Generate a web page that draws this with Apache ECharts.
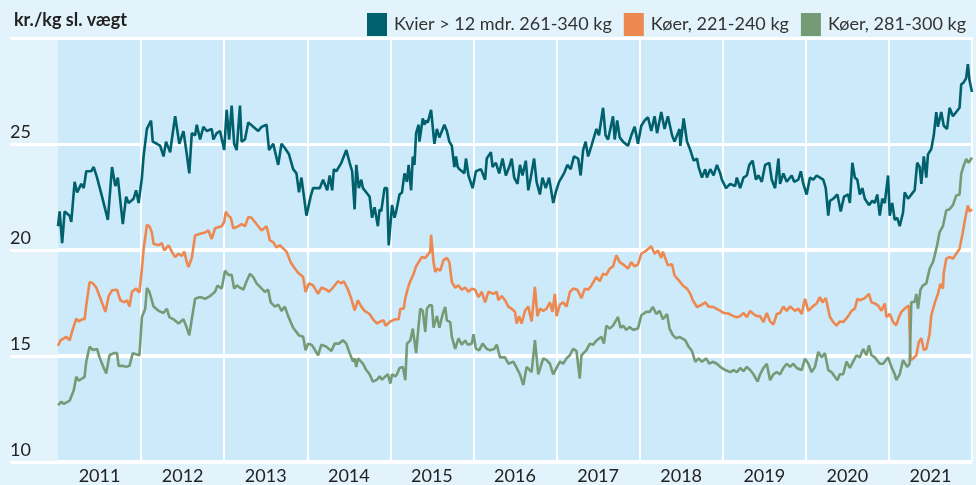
<!DOCTYPE html>
<html><head><meta charset="utf-8">
<script src="https://cdn.jsdelivr.net/npm/echarts@6/dist/echarts.min.js"></script>
<style>html,body{margin:0;padding:0;background:#e2f3fc}#c{width:976px;height:485px}</style>
</head><body><div id="c"></div>
<script>
const years = ['2011','2012','2013','2014','2015','2016','2017','2018','2019','2020','2021'];
const seriesNames = ['Kvier > 12 mdr. 261-340 kg', 'Køer, 221-240 kg', 'Køer, 281-300 kg'];

const kvier = [
[2011.00,21.1],[2011.02,21.8],[2011.05,20.3],[2011.08,21.8],[2011.14,21.6],[2011.16,21.3],[2011.20,23.2],[2011.23,22.7],[2011.28,23.1],[2011.31,22.9],[2011.34,23.7],[2011.40,23.7],[2011.43,23.9],[2011.47,23.4],[2011.53,22.5],[2011.60,21.4],[2011.65,23.9],[2011.69,23.0],[2011.72,23.4],[2011.78,21.2],[2011.82,22.5],[2011.85,22.2],[2011.91,22.4],[2011.94,22.8],[2011.97,22.2],
[2012.01,23.4],[2012.03,24.4],[2012.07,25.7],[2012.12,26.1],[2012.14,25.1],[2012.19,25.0],[2012.23,24.9],[2012.27,24.4],[2012.30,25.1],[2012.35,24.6],[2012.37,25.2],[2012.41,26.3],[2012.46,25.0],[2012.51,25.6],[2012.55,24.5],[2012.58,23.6],[2012.61,25.5],[2012.65,25.4],[2012.67,25.9],[2012.71,25.2],[2012.75,25.8],[2012.79,25.6],[2012.85,25.7],[2012.87,25.2],[2012.91,25.5],[2012.95,25.6],
[2013.00,24.7],[2013.03,26.6],[2013.06,25.2],[2013.09,26.8],[2013.12,25.0],[2013.15,24.7],[2013.19,26.8],[2013.21,25.1],[2013.25,25.2],[2013.29,26.0],[2013.35,25.8],[2013.41,25.6],[2013.45,25.8],[2013.51,25.9],[2013.54,24.7],[2013.59,25.0],[2013.65,24.0],[2013.69,25.0],[2013.73,24.8],[2013.78,24.5],[2013.83,23.8],[2013.87,23.6],[2013.90,22.7],[2013.93,23.4],[2013.99,21.6],
[2014.04,22.5],[2014.07,22.9],[2014.15,22.9],[2014.19,23.3],[2014.24,22.8],[2014.27,23.5],[2014.30,22.8],[2014.32,23.8],[2014.35,23.7],[2014.41,24.1],[2014.47,24.7],[2014.51,24.1],[2014.54,23.7],[2014.57,21.9],[2014.59,24.0],[2014.62,22.9],[2014.65,23.3],[2014.67,22.9],[2014.73,22.6],[2014.75,22.5],[2014.78,21.5],[2014.81,22.0],[2014.85,21.1],[2014.87,21.9],[2014.89,21.8],[2014.93,22.9],[2014.96,22.9],[2014.98,20.2],
[2015.02,22.1],[2015.05,21.5],[2015.07,21.8],[2015.11,22.6],[2015.14,22.7],[2015.17,23.6],[2015.20,23.2],[2015.22,24.0],[2015.25,22.8],[2015.27,24.4],[2015.29,24.0],[2015.31,25.5],[2015.34,25.9],[2015.35,25.1],[2015.39,26.2],[2015.41,25.9],[2015.43,26.1],[2015.45,26.0],[2015.49,26.6],[2015.53,25.0],[2015.56,25.7],[2015.59,25.3],[2015.65,25.9],[2015.68,25.6],[2015.71,25.1],[2015.74,24.9],[2015.77,23.9],[2015.79,24.4],[2015.81,23.9],[2015.83,23.8],[2015.89,23.6],[2015.91,24.3],[2015.94,23.5],[2015.99,22.9],
[2016.03,23.7],[2016.09,23.8],[2016.14,23.3],[2016.16,24.3],[2016.21,24.6],[2016.23,23.9],[2016.27,24.1],[2016.31,23.6],[2016.35,24.3],[2016.39,23.5],[2016.43,23.9],[2016.46,24.3],[2016.49,23.4],[2016.53,23.1],[2016.56,24.0],[2016.59,23.5],[2016.63,24.2],[2016.66,22.8],[2016.69,23.4],[2016.73,24.3],[2016.76,23.2],[2016.80,22.6],[2016.83,23.4],[2016.87,22.9],[2016.91,23.4],[2016.96,22.2],[2016.99,22.7],
[2017.03,23.2],[2017.09,23.6],[2017.13,24.0],[2017.17,23.8],[2017.21,24.4],[2017.26,24.3],[2017.29,23.5],[2017.32,24.7],[2017.35,25.1],[2017.38,24.4],[2017.42,24.9],[2017.48,25.7],[2017.51,25.4],[2017.56,26.7],[2017.59,25.4],[2017.62,25.2],[2017.68,26.3],[2017.70,25.2],[2017.73,26.1],[2017.76,25.3],[2017.80,25.1],[2017.86,24.9],[2017.90,25.4],[2017.94,25.8],[2017.98,25.0],
[2018.02,25.85],[2018.06,26.1],[2018.10,26.25],[2018.14,25.6],[2018.18,26.3],[2018.21,25.5],[2018.26,26.5],[2018.30,25.7],[2018.34,26.3],[2018.39,25.4],[2018.42,25.1],[2018.48,25.7],[2018.49,24.9],[2018.53,26.2],[2018.57,25.1],[2018.61,24.7],[2018.65,24.2],[2018.69,24.3],[2018.71,23.9],[2018.75,23.4],[2018.79,23.8],[2018.81,23.4],[2018.85,23.8],[2018.89,23.5],[2018.93,24.0],[2018.97,23.6],[2018.99,23.3],
[2019.04,22.9],[2019.09,23.1],[2019.15,23.0],[2019.17,23.4],[2019.21,22.9],[2019.25,23.4],[2019.29,23.5],[2019.32,24.0],[2019.36,24.2],[2019.40,23.3],[2019.43,23.5],[2019.47,23.2],[2019.51,24.0],[2019.56,24.1],[2019.59,23.3],[2019.63,22.9],[2019.67,24.3],[2019.69,23.1],[2019.73,23.6],[2019.77,23.2],[2019.83,23.5],[2019.86,23.2],[2019.91,23.3],[2019.94,23.7],[2019.97,23.1],
[2020.01,22.6],[2020.05,23.4],[2020.09,23.3],[2020.13,23.5],[2020.17,23.4],[2020.21,23.3],[2020.24,22.9],[2020.27,21.6],[2020.29,22.3],[2020.33,22.4],[2020.38,22.6],[2020.42,21.8],[2020.46,22.5],[2020.51,22.6],[2020.53,22.2],[2020.56,24.1],[2020.59,23.4],[2020.62,23.3],[2020.65,22.6],[2020.68,22.9],[2020.71,22.4],[2020.76,22.1],[2020.80,22.3],[2020.83,22.2],[2020.86,22.6],[2020.89,21.6],[2020.92,22.4],[2020.95,22.2],[2020.99,23.5],
[2021.01,21.6],[2021.04,22.2],[2021.07,21.4],[2021.10,21.5],[2021.13,21.1],[2021.17,21.75],[2021.19,22.7],[2021.23,22.4],[2021.29,22.7],[2021.31,22.8],[2021.34,24.1],[2021.37,23.9],[2021.39,23.1],[2021.42,24.4],[2021.45,23.4],[2021.47,24.5],[2021.51,24.75],[2021.54,25.4],[2021.57,26.5],[2021.59,25.8],[2021.63,26.5],[2021.66,25.85],[2021.70,25.7],[2021.73,26.7],[2021.77,26.3],[2021.81,26.5],[2021.85,26.7],[2021.87,27.8],[2021.90,27.9],[2021.93,28.1],[2021.95,28.76],[2021.97,28.0],[2022.00,27.45]
];

const koer221 = [
[2011.00,15.45],[2011.03,15.7],[2011.10,15.87],[2011.14,15.7],[2011.18,16.26],[2011.22,16.73],[2011.25,16.6],[2011.29,16.7],[2011.32,16.7],[2011.34,17.36],[2011.38,18.46],[2011.42,18.4],[2011.46,18.2],[2011.50,17.8],[2011.57,17.05],[2011.61,17.8],[2011.65,18.07],[2011.71,18.1],[2011.75,17.6],[2011.80,17.5],[2011.83,17.6],[2011.86,17.3],[2011.89,18.0],[2011.94,18.15],[2011.98,17.96],
[2012.01,19.09],[2012.03,20.0],[2012.07,21.16],[2012.10,21.1],[2012.13,20.8],[2012.15,20.27],[2012.21,20.2],[2012.25,20.3],[2012.28,19.95],[2012.33,20.2],[2012.37,19.9],[2012.41,19.64],[2012.45,19.8],[2012.49,19.7],[2012.52,19.9],[2012.55,19.4],[2012.57,19.17],[2012.61,19.6],[2012.65,20.66],[2012.71,20.74],[2012.77,20.8],[2012.81,20.9],[2012.85,20.5],[2012.89,21.0],[2012.97,21.1],
[2013.00,21.3],[2013.02,21.79],[2013.05,21.6],[2013.08,21.5],[2013.11,21.0],[2013.17,21.1],[2013.21,21.2],[2013.25,21.1],[2013.29,21.53],[2013.33,21.5],[2013.37,21.3],[2013.41,21.1],[2013.45,20.9],[2013.51,21.1],[2013.55,20.43],[2013.59,20.35],[2013.63,20.1],[2013.67,20.2],[2013.75,19.9],[2013.80,19.4],[2013.85,19.1],[2013.89,18.9],[2013.95,18.7],[2013.98,17.99],
[2014.02,18.4],[2014.07,18.3],[2014.13,17.9],[2014.17,18.2],[2014.23,18.1],[2014.26,18.0],[2014.31,18.2],[2014.37,18.5],[2014.41,18.4],[2014.44,18.5],[2014.49,18.1],[2014.53,17.67],[2014.57,17.12],[2014.61,17.6],[2014.65,17.3],[2014.69,17.1],[2014.75,16.95],[2014.79,16.7],[2014.84,16.5],[2014.88,16.6],[2014.92,16.65],[2014.94,16.4],
[2015.00,16.6],[2015.06,16.7],[2015.10,16.7],[2015.12,17.2],[2015.16,17.2],[2015.18,17.7],[2015.22,18.3],[2015.24,18.5],[2015.28,18.85],[2015.31,19.2],[2015.34,19.4],[2015.38,19.65],[2015.42,19.6],[2015.44,19.7],[2015.48,19.9],[2015.49,20.7],[2015.52,19.4],[2015.54,18.93],[2015.56,19.1],[2015.60,19.0],[2015.64,19.5],[2015.68,19.6],[2015.71,19.4],[2015.74,18.46],[2015.78,18.2],[2015.82,18.3],[2015.86,18.1],[2015.90,18.2],[2015.94,18.0],[2015.98,18.15],
[2016.02,18.1],[2016.06,17.75],[2016.10,18.0],[2016.14,17.5],[2016.18,18.0],[2016.24,17.9],[2016.28,18.0],[2016.30,17.6],[2016.34,17.8],[2016.38,17.6],[2016.42,17.3],[2016.46,17.2],[2016.50,17.05],[2016.52,16.5],[2016.55,16.85],[2016.58,16.5],[2016.62,17.1],[2016.66,17.3],[2016.70,16.6],[2016.74,18.23],[2016.77,16.85],[2016.80,17.2],[2016.84,17.1],[2016.88,17.2],[2016.92,17.5],[2016.95,17.05],[2016.98,17.9],
[2017.00,16.85],[2017.04,17.4],[2017.08,17.5],[2017.12,17.3],[2017.16,17.99],[2017.20,18.15],[2017.25,18.1],[2017.30,17.7],[2017.34,18.15],[2017.38,18.1],[2017.42,18.3],[2017.48,18.7],[2017.52,18.5],[2017.56,18.85],[2017.60,18.8],[2017.64,19.1],[2017.68,19.2],[2017.72,19.72],[2017.76,19.4],[2017.80,19.3],[2017.86,19.1],[2017.90,19.4],[2017.94,19.2],[2017.98,19.3],
[2018.02,19.8],[2018.08,19.95],[2018.14,20.15],[2018.18,19.8],[2018.22,19.95],[2018.26,19.6],[2018.28,19.9],[2018.34,19.25],[2018.39,19.3],[2018.42,18.77],[2018.48,18.5],[2018.52,18.3],[2018.57,18.15],[2018.61,17.9],[2018.64,17.6],[2018.69,17.28],[2018.73,17.35],[2018.79,17.5],[2018.83,17.3],[2018.89,17.28],[2018.95,17.15],
[2019.01,17.0],[2019.07,16.97],[2019.13,16.85],[2019.17,16.8],[2019.21,16.85],[2019.25,17.0],[2019.29,16.8],[2019.33,17.1],[2019.37,16.95],[2019.41,16.85],[2019.45,16.85],[2019.49,16.57],[2019.53,17.0],[2019.57,16.6],[2019.61,16.45],[2019.65,16.95],[2019.69,17.0],[2019.73,17.3],[2019.77,17.1],[2019.81,17.3],[2019.87,17.1],[2019.91,17.2],[2019.95,16.95],[2019.99,17.67],
[2020.03,17.1],[2020.08,17.3],[2020.13,17.45],[2020.17,17.75],[2020.20,17.5],[2020.24,17.7],[2020.29,16.81],[2020.33,16.57],[2020.37,16.4],[2020.41,16.6],[2020.45,16.57],[2020.51,16.85],[2020.55,17.1],[2020.59,17.2],[2020.62,17.67],[2020.65,17.6],[2020.71,17.7],[2020.76,17.9],[2020.79,17.5],[2020.83,17.45],[2020.87,17.35],[2020.91,17.1],[2020.95,17.45],[2020.97,16.8],
[2021.01,16.95],[2021.05,16.57],[2021.09,16.42],[2021.12,16.8],[2021.15,17.05],[2021.17,17.1],[2021.21,17.28],[2021.24,17.35],[2021.26,14.76],[2021.29,14.84],[2021.33,15.0],[2021.36,15.63],[2021.39,15.8],[2021.42,15.25],[2021.45,15.3],[2021.49,16.02],[2021.51,16.89],[2021.55,17.45],[2021.59,17.9],[2021.62,18.38],[2021.65,18.15],[2021.66,18.9],[2021.69,19.56],[2021.73,19.65],[2021.77,19.56],[2021.81,19.8],[2021.85,20.03],[2021.89,20.82],[2021.91,21.3],[2021.95,22.08],[2021.97,21.8],[2022.00,21.9]
];

const koer281 = [
[2011.00,12.64],[2011.04,12.8],[2011.07,12.7],[2011.14,12.85],[2011.19,13.35],[2011.22,13.98],[2011.25,13.8],[2011.29,13.9],[2011.32,13.98],[2011.34,14.7],[2011.38,15.4],[2011.42,15.25],[2011.47,15.3],[2011.50,14.9],[2011.54,14.5],[2011.58,14.14],[2011.62,15.0],[2011.67,15.1],[2011.71,15.1],[2011.73,14.5],[2011.78,14.5],[2011.82,14.45],[2011.86,14.5],[2011.90,15.1],[2011.94,15.05],[2011.98,15.0],
[2012.01,16.81],[2012.05,17.2],[2012.07,18.18],[2012.10,18.0],[2012.15,17.3],[2012.21,17.1],[2012.27,17.0],[2012.31,17.2],[2012.34,16.8],[2012.39,16.7],[2012.45,16.5],[2012.51,16.7],[2012.55,16.3],[2012.58,15.94],[2012.61,16.7],[2012.65,17.67],[2012.71,17.75],[2012.77,17.67],[2012.83,17.8],[2012.89,18.0],[2012.92,18.3],[2012.97,18.15],
[2013.01,19.0],[2013.05,18.8],[2013.09,18.8],[2013.12,18.15],[2013.15,18.3],[2013.19,18.2],[2013.23,18.1],[2013.27,18.5],[2013.31,18.85],[2013.35,18.7],[2013.39,18.4],[2013.44,18.2],[2013.49,18.0],[2013.53,18.1],[2013.56,17.5],[2013.61,17.3],[2013.65,17.4],[2013.69,17.1],[2013.73,17.3],[2013.77,16.85],[2013.83,16.3],[2013.90,15.94],[2013.95,15.87],[2013.98,15.24],
[2014.01,15.55],[2014.05,15.5],[2014.07,15.4],[2014.13,15.0],[2014.17,15.5],[2014.23,15.4],[2014.29,15.2],[2014.33,15.55],[2014.38,15.55],[2014.43,15.71],[2014.47,15.55],[2014.51,15.1],[2014.55,14.7],[2014.57,14.85],[2014.59,14.45],[2014.61,14.85],[2014.67,14.6],[2014.71,14.3],[2014.75,14.1],[2014.79,13.75],[2014.84,13.85],[2014.87,14.0],[2014.90,13.85],[2014.94,14.0],[2014.97,14.1],
[2015.00,13.66],[2015.02,14.1],[2015.06,14.0],[2015.08,14.1],[2015.11,14.4],[2015.15,14.45],[2015.18,13.82],[2015.20,15.55],[2015.24,15.7],[2015.27,16.26],[2015.31,15.1],[2015.34,16.4],[2015.36,17.2],[2015.39,17.1],[2015.42,16.1],[2015.44,17.2],[2015.47,17.36],[2015.50,17.36],[2015.52,16.3],[2015.56,16.85],[2015.59,16.3],[2015.63,16.95],[2015.66,17.28],[2015.68,16.65],[2015.72,16.57],[2015.74,15.87],[2015.78,15.3],[2015.82,15.8],[2015.86,15.5],[2015.90,15.7],[2015.93,15.5],[2015.98,15.55],
[2016.00,16.0],[2016.03,15.3],[2016.07,15.24],[2016.11,15.55],[2016.16,15.3],[2016.20,15.24],[2016.25,15.3],[2016.28,15.5],[2016.32,14.9],[2016.38,14.9],[2016.42,14.6],[2016.48,14.7],[2016.52,14.4],[2016.56,14.1],[2016.60,13.59],[2016.64,14.45],[2016.70,14.2],[2016.74,15.71],[2016.78,14.1],[2016.84,14.85],[2016.88,14.77],[2016.92,14.6],[2016.96,14.1],
[2017.00,14.4],[2017.04,14.7],[2017.08,14.6],[2017.12,14.85],[2017.16,15.0],[2017.20,15.3],[2017.24,15.2],[2017.28,13.9],[2017.30,15.0],[2017.36,15.24],[2017.40,15.55],[2017.44,15.5],[2017.48,15.7],[2017.54,15.87],[2017.57,15.55],[2017.60,16.4],[2017.64,16.26],[2017.68,16.4],[2017.74,16.81],[2017.77,16.3],[2017.80,16.4],[2017.84,16.2],[2017.88,16.34],[2017.92,16.2],[2017.98,16.26],
[2018.02,16.89],[2018.08,17.05],[2018.12,17.05],[2018.16,17.28],[2018.20,16.95],[2018.24,17.1],[2018.28,16.7],[2018.33,16.95],[2018.36,16.26],[2018.40,15.95],[2018.44,15.8],[2018.48,15.87],[2018.51,15.8],[2018.55,15.7],[2018.59,15.4],[2018.63,15.2],[2018.67,14.69],[2018.71,14.85],[2018.75,14.69],[2018.80,14.85],[2018.84,14.6],[2018.88,14.69],[2018.93,14.6],[2018.97,14.45],
[2019.03,14.3],[2019.09,14.2],[2019.13,14.3],[2019.17,14.2],[2019.21,14.4],[2019.25,14.25],[2019.29,14.45],[2019.33,14.3],[2019.37,14.1],[2019.42,13.75],[2019.45,14.1],[2019.49,14.4],[2019.53,14.6],[2019.57,13.82],[2019.61,14.1],[2019.65,14.2],[2019.69,14.1],[2019.73,14.4],[2019.77,14.6],[2019.81,14.45],[2019.85,14.6],[2019.89,14.4],[2019.95,14.3],[2019.99,14.84],
[2020.03,14.6],[2020.07,14.2],[2020.11,14.45],[2020.15,15.16],[2020.19,14.9],[2020.23,15.1],[2020.27,14.3],[2020.31,14.2],[2020.35,13.98],[2020.38,13.82],[2020.41,14.1],[2020.45,14.1],[2020.49,14.7],[2020.53,14.4],[2020.57,14.7],[2020.61,15.0],[2020.65,14.9],[2020.69,15.3],[2020.73,15.0],[2020.76,15.47],[2020.79,15.0],[2020.83,14.9],[2020.89,14.6],[2020.93,14.6],[2020.99,14.9],
[2021.03,14.45],[2021.07,14.1],[2021.09,13.82],[2021.13,14.1],[2021.17,14.77],[2021.19,14.7],[2021.22,14.45],[2021.25,14.6],[2021.27,17.52],[2021.31,17.52],[2021.33,17.9],[2021.35,17.2],[2021.38,18.1],[2021.41,18.3],[2021.45,18.4],[2021.49,19.09],[2021.53,19.4],[2021.55,19.7],[2021.58,20.2],[2021.61,20.82],[2021.65,21.1],[2021.69,21.84],[2021.73,21.9],[2021.77,22.1],[2021.81,22.55],[2021.85,22.6],[2021.87,23.57],[2021.90,23.96],[2021.93,24.28],[2021.96,24.1],[2022.00,24.35]
];

const colors = ['#00606b', '#ec8850', '#749a76'];
const dataSets = [kvier, koer221, koer281];

const chart = echarts.init(document.getElementById('c'), null, {renderer: 'canvas'});
chart.setOption({
  backgroundColor: '#e2f3fc',
  animation: false,
  textStyle: {fontFamily: 'Lato'},
  title: {
    text: 'kr./kg sl. vægt', left: 9, top: 6,
    textStyle: {fontFamily: 'Lato', fontWeight: 'bold', fontSize: 18, color: '#222'}
  },
  legend: {
    top: 8, right: 5, itemWidth: 20, itemHeight: 23, itemGap: 12, icon: 'rect',
    data: seriesNames,
    textStyle: {fontFamily: 'Lato', fontSize: 18, color: '#333', padding: [0, 0, 0, 2]}
  },
  grid: [
    {left: 58, right: 4, top: 38, bottom: 23, show: true, backgroundColor: '#cdeafa', borderWidth: 0},
    {left: 10, right: 4, top: 38, bottom: 23, show: false}
  ],
  xAxis: [
    {type: 'category', gridIndex: 0, data: years, boundaryGap: true,
     axisLine: {show: false}, axisTick: {show: false},
     splitLine: {show: true, interval: (i) => i > 0, lineStyle: {color: '#ffffff', width: 2}},
     axisLabel: {fontFamily: 'Lato', fontSize: 18, color: '#222', margin: 6, interval: 0}},
    {type: 'value', gridIndex: 0, min: 2011, max: 2022, show: false},
    {type: 'value', gridIndex: 1, min: 0, max: 1, show: false}
  ],
  yAxis: [
    {type: 'value', gridIndex: 0, min: 10, max: 30, interval: 5,
     axisLine: {show: false}, axisTick: {show: false}, axisLabel: {show: false},
     splitLine: {show: true, lineStyle: {color: '#ffffff', width: 3}}},
    {type: 'value', gridIndex: 1, min: 10, max: 30, interval: 5,
     axisLine: {show: false}, axisTick: {show: false},
     axisLabel: {inside: true, margin: 0, fontFamily: 'Lato', fontSize: 18, color: '#222',
       verticalAlign: 'bottom', align: 'left', padding: [0, 0, 3, 0],
       formatter: v => (v === 30 ? '' : String(v))},
     splitLine: {show: true, lineStyle: {color: '#ffffff', width: 3}}}
  ],
  series: seriesNames.map((name, i) => ({
    name: name, type: 'line', xAxisIndex: 1, yAxisIndex: 0,
    data: dataSets[i], showSymbol: false, symbol: 'none',
    color: colors[i],
    lineStyle: {color: colors[i], width: 2.6},
    itemStyle: {color: colors[i]}
  }))
});
</script>
</body></html>
